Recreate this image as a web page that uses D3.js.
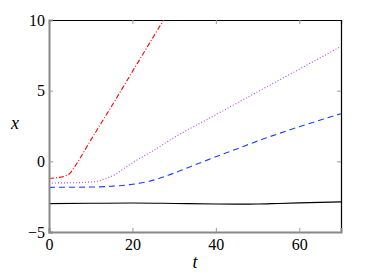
<!DOCTYPE html>
<html>
<head>
<meta charset="utf-8">
<style>
  body { margin: 0; background: #fff; }
  svg { display: block; }
</style>
</head>
<body>
<svg></svg>
<script src="https://d3js.org/d3.v7.min.js"></script>
<script>
// values
var tBlack = [0, 10, 20, 30, 40, 45, 50, 55, 60, 70];
var xBlack = [-2.99, -2.97, -2.95, -2.98, -3.02, -3.03, -3.02, -2.98, -2.94, -2.87];

var tRed = [0, 2, 4, 5, 6, 10, 15, 20, 25, 30];
var xRed = [-1.2, -1.15, -1.02, -0.85, -0.45, 1.5, 3.9, 6.35, 8.8, 11.2];

var tMag = [0, 5, 9, 11.4, 13.5, 15.8, 18, 20.6, 25.4, 29.8, 40, 50, 60, 70];
var xMag = [-1.53, -1.52, -1.48, -1.41, -1.22, -0.94, -0.5, 0.0, 0.83, 1.65, 3.3, 4.92, 6.52, 8.13];

var tBlue = [0, 10, 15, 19.4, 23, 26, 29, 32, 35, 38.2, 45, 52, 60, 70];
var xBlue = [-1.84, -1.82, -1.76, -1.65, -1.48, -1.25, -0.94, -0.6, -0.25, 0.12, 0.88, 1.65, 2.45, 3.37];

var xTicks = [0, 20, 40, 60];
var yTicks = [-5, 0, 5, 10];

var W = 377, H = 274;
var mLeft = 49, mRight = 341, mTop = 20, mBottom = 232;
var serif = "'Liberation Serif', 'Times New Roman', serif";

var svg = d3.select("svg").attr("width", W).attr("height", H);

var xs = d3.scaleLinear().domain([0, 70]).range([mLeft, mRight]);
var ys = d3.scaleLinear().domain([-5, 10]).range([mBottom, mTop]);

svg.append("clipPath").attr("id", "clip")
  .append("rect").attr("x", mLeft).attr("y", mTop)
  .attr("width", mRight - mLeft).attr("height", mBottom - mTop);

function fmt(d) { return d < 0 ? "\u2212" + Math.abs(d) : "" + d; }

// top and right frame
var axTop = d3.axisTop(xs).tickValues(xTicks.slice(1)).tickSize(-4).tickFormat("");
var axRight = d3.axisRight(ys).tickValues([0, 5]).tickSize(-4).tickFormat("");
var gt = svg.append("g").attr("transform", "translate(0," + mTop + ")").call(axTop);
var gr = svg.append("g").attr("transform", "translate(" + mRight + ",0)").call(axRight);
gt.select(".domain").attr("stroke", "#000").attr("stroke-width", 1.2);
gr.select(".domain").attr("stroke", "#000").attr("stroke-width", 1.2);
gt.selectAll(".tick line").attr("stroke", "#999");
gr.selectAll(".tick line").attr("stroke", "#999");

// series
function drawLine(ts, vs, color, dash, width) {
  var pts = ts.map(function(t, i) { return [t, vs[i]]; });
  var line = d3.line()
    .x(function(d) { return xs(d[0]); })
    .y(function(d) { return ys(d[1]); })
    .curve(d3.curveMonotoneX);
  svg.append("path")
    .datum(pts)
    .attr("clip-path", "url(#clip)")
    .attr("d", line)
    .attr("fill", "none")
    .attr("stroke", color)
    .attr("stroke-width", width)
    .attr("stroke-dasharray", dash);
}
drawLine(tBlack, xBlack, "#000", null, 1.1);
drawLine(tBlue, xBlue, "#1f3fff", "6,4", 1.1);
drawLine(tMag, xMag, "#b040ff", "1,2", 1.1);
drawLine(tRed, xRed, "#ff0000", "5,2,1,2", 1.1);

// bottom and left axes (grey)
var axB = d3.axisBottom(xs).tickValues(xTicks).tickSize(-4).tickPadding(7).tickFormat(fmt);
var axL = d3.axisLeft(ys).tickValues(yTicks).tickSize(-4).tickPadding(4).tickFormat(fmt);
var gb = svg.append("g").attr("transform", "translate(0," + mBottom + ")").call(axB);
var gl = svg.append("g").attr("transform", "translate(" + mLeft + ",0)").call(axL);
[gb, gl].forEach(function(g) {
  g.attr("font-family", null).attr("font-size", null);
  g.select(".domain").attr("stroke", "#888").attr("stroke-width", 2);
  g.selectAll(".tick line").attr("stroke", "#999");
  g.selectAll(".tick text").attr("fill", "#000")
    .style("font-family", serif).style("font-size", "16px");
});
gl.selectAll(".tick line").filter(function(d) { return d === -5 || d === 10; }).remove();
gb.selectAll(".tick line").filter(function(d) { return d === 0; }).remove();

svg.append("text").attr("x", 195).attr("y", 268)
  .attr("text-anchor", "middle")
  .style("font-family", serif)
  .style("font-style", "italic").style("font-size", "18px").text("t");
svg.append("text").attr("x", 15).attr("y", 129)
  .attr("text-anchor", "middle")
  .style("font-family", serif)
  .style("font-style", "italic").style("font-size", "18px").text("x");
</script>
</body>
</html>
